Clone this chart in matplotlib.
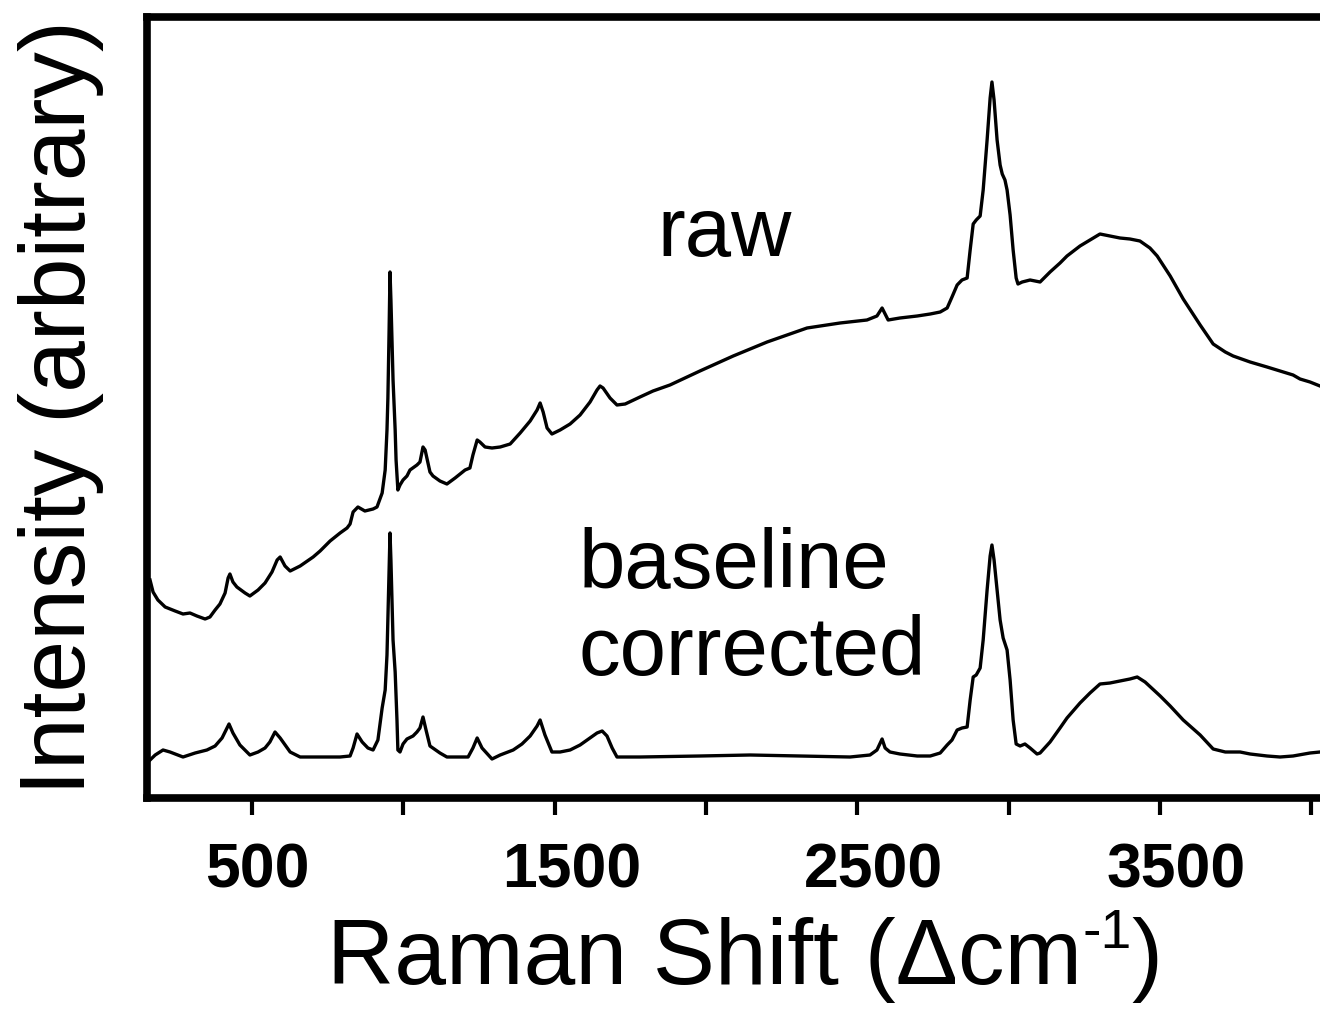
import matplotlib
matplotlib.use("Agg")
import matplotlib.pyplot as plt
import matplotlib.transforms as mtransforms
from matplotlib import font_manager

# ---------------- data ----------------
raw_shift = [163, 173, 189, 213, 246, 272, 295, 318, 345, 361, 378, 394, 411, 421, 427, 437, 450, 477, 493, 520,
             543, 566, 583, 593, 609, 626, 659, 702, 725, 758, 791, 814, 824, 834, 850, 873, 900, 913, 930, 940,
             946, 949, 953, 956, 959, 966, 973, 976, 982, 989, 999, 1012, 1022, 1045, 1055, 1065, 1072, 1088, 1098, 1121,
             1144, 1171, 1204, 1220, 1230, 1244, 1253, 1270, 1293, 1320, 1353, 1386, 1419, 1442, 1452, 1462, 1475, 1491, 1518, 1551,
             1584, 1617, 1640, 1650, 1660, 1683, 1706, 1733, 1782, 1825, 1881, 1938, 1980, 2090, 2202, 2268, 2334, 2443, 2532, 2565,
             2582, 2592, 2602, 2641, 2698, 2741, 2774, 2797, 2813, 2830, 2846, 2863, 2873, 2883, 2893, 2906, 2916, 2929, 2939, 2945,
             2952, 2962, 2972, 2979, 2988, 2995, 3005, 3015, 3025, 3031, 3045, 3071, 3104, 3137, 3170, 3193, 3236, 3269, 3302, 3335,
             3368, 3401, 3434, 3467, 3491, 3534, 3577, 3633, 3676, 3716, 3742, 3798, 3854, 3897, 3940, 3963, 3996, 4029]
raw_intensity = [218, 206, 198, 191, 187, 184, 185, 182, 179, 181, 188, 194, 205, 220, 224, 216, 211, 205, 202, 208,
                 215, 226, 238, 241, 232, 227, 232, 241, 247, 257, 265, 270, 274, 286, 291, 287, 289, 291, 305, 328,
                 368, 400, 468, 526, 498, 418, 368, 338, 308, 313, 318, 322, 328, 333, 336, 351, 348, 326, 322, 317,
                 314, 320, 328, 330, 343, 358, 356, 351, 350, 351, 354, 365, 377, 388, 395, 386, 370, 364, 368, 374,
                 383, 396, 408, 412, 410, 400, 393, 394, 401, 407, 413, 421, 427, 442, 456, 463, 470, 475, 478, 482,
                 490, 484, 478, 480, 482, 484, 486, 490, 501, 513, 518, 520, 548, 574, 578, 582, 608, 658, 700, 716,
                 698, 658, 633, 624, 618, 608, 583, 548, 520, 514, 516, 518, 516, 526, 535, 542, 552, 558, 564, 562,
                 560, 559, 557, 550, 542, 522, 499, 473, 454, 446, 442, 436, 431, 427, 423, 419, 416, 412]

corr_shift = [163, 180, 206, 229, 272, 312, 351, 378, 401, 424, 437, 460, 493, 520, 543, 559, 576, 593, 626, 659,
              725, 791, 824, 834, 847, 864, 883, 900, 916, 930, 940, 946, 953, 956, 959, 966, 973, 979, 982, 989,
              999, 1012, 1032, 1045, 1055, 1065, 1075, 1088, 1121, 1144, 1181, 1214, 1230, 1244, 1260, 1293, 1320, 1363, 1392, 1419,
              1442, 1452, 1468, 1491, 1518, 1551, 1584, 1617, 1640, 1657, 1673, 1690, 1706, 1782, 1980, 2146, 2311, 2476, 2542, 2565,
              2582, 2592, 2608, 2641, 2698, 2741, 2774, 2797, 2813, 2830, 2846, 2863, 2873, 2883, 2893, 2906, 2916, 2929, 2939, 2945,
              2952, 2962, 2972, 2982, 2995, 3005, 3015, 3025, 3038, 3054, 3071, 3094, 3104, 3137, 3170, 3193, 3236, 3269, 3302, 3335,
              3368, 3401, 3425, 3451, 3501, 3534, 3577, 3633, 3676, 3716, 3765, 3798, 3854, 3897, 3940, 3996, 4029]
corr_intensity = [38, 43, 48, 46, 41, 45, 48, 52, 60, 74, 65, 53, 43, 46, 50, 56, 66, 60, 46, 41,
                  41, 41, 42, 50, 64, 56, 50, 48, 58, 90, 108, 143, 228, 265, 238, 158, 126, 78, 48, 46,
                  54, 59, 62, 66, 70, 81, 68, 52, 45, 41, 41, 41, 50, 60, 50, 39, 43, 48, 54, 62,
                  72, 78, 63, 46, 46, 48, 53, 60, 65, 67, 62, 50, 41, 41, 42, 43, 42, 41, 43, 48,
                  59, 50, 46, 44, 42, 42, 45, 53, 58, 68, 70, 71, 98, 121, 123, 130, 158, 208, 242, 253,
                  238, 208, 178, 160, 148, 118, 78, 54, 52, 54, 50, 44, 45, 56, 70, 80, 95, 105, 114, 115,
                  117, 119, 121, 116, 102, 92, 78, 63, 49, 46, 46, 44, 42, 41, 42, 45, 46]

tick_values = [500, 1000, 1500, 2000, 2500, 3000, 3500, 4000]
tick_labels = ["500", "", "1500", "", "2500", "", "3500", ""]
label_raw = "raw"
label_corr_1 = "baseline"
label_corr_2 = "corrected"
x_title_main = "Raman Shift (\u0394cm"
x_title_sup = "-1"
x_title_end = ")"
y_title = "Intensity (arbitrary)"

# ---------------- style ----------------
avail = {f.name for f in font_manager.fontManager.ttflist}
main_font = "Liberation Sans" if "Liberation Sans" in avail else "DejaVu Sans"
plt.rcParams["font.family"] = [main_font, "DejaVu Sans"]

W, H, DPI = 1320, 1019, 100
fig = plt.figure(figsize=(W / DPI, H / DPI), dpi=DPI)
fig.patch.set_facecolor("white")

# axes box in pixels: left 147, right 1343 (beyond figure edge), top 17, bottom 798
L, R, T, B = 147, 1343, 17, 798
ax = fig.add_axes([L / W, (H - B) / H, (R - L) / W, (B - T) / H])

ax.plot(raw_shift, raw_intensity, color="black", lw=2.4, solid_joinstyle="round")
ax.plot(corr_shift, corr_intensity, color="black", lw=2.4, solid_joinstyle="round")

ax.set_xlim(153, 4105)
ax.set_ylim(0, 781)

for s in ax.spines.values():
    s.set_linewidth(5.5)
ax.spines["right"].set_visible(False)

ax.set_yticks([])
ax.set_xticks(tick_values)
ax.set_xticklabels(tick_labels, fontsize=45, fontweight="bold")
ax.tick_params(axis="x", direction="out", length=12, width=3, pad=19)

# small horizontal offsets of the tick labels as in the reference
label_dx_px = [5, 0, 17, 0, 16, 0, 16, 0]
for lab, dx in zip(ax.get_xticklabels(), label_dx_px):
    lab.set_transform(lab.get_transform() + mtransforms.ScaledTranslation(dx / DPI, 0, fig.dpi_scale_trans))

# x title built from three pieces so the superscript is a small hyphen-one
fig.canvas.draw()
renderer = fig.canvas.get_renderer()
base_y = (H - 984) / H
t1 = fig.text(0, base_y, x_title_main, fontsize=67, ha="left", va="baseline")
t2 = fig.text(0, base_y, x_title_sup, fontsize=40, ha="left", va="baseline")
t3 = fig.text(0, base_y, x_title_end, fontsize=67, ha="left", va="baseline")
w1 = t1.get_window_extent(renderer).width
w2 = t2.get_window_extent(renderer).width
w3 = t3.get_window_extent(renderer).width
total = w1 + w2 + w3
x0 = 745 - total / 2
t1.set_x(x0 / W)
t2.set_x((x0 + w1) / W)
t2.set_y((H - 984 + 36) / H)
t3.set_x((x0 + w1 + w2) / W)

ax.set_ylabel(y_title, fontsize=67, va="baseline")
ax.yaxis.set_label_coords((85 - L) / (R - L), 0.5)

ax.text(1838, 542, label_raw, fontsize=60, ha="left", va="baseline")
ax.text(1578, 210, label_corr_1, fontsize=60, ha="left", va="baseline")
ax.text(1578, 123, label_corr_2, fontsize=60, ha="left", va="baseline")

fig.savefig("out.png", dpi=DPI, facecolor="white")
